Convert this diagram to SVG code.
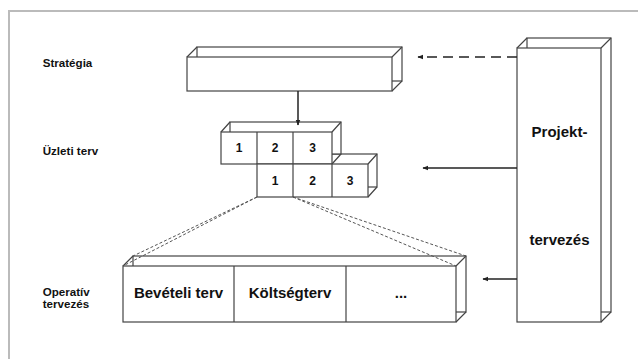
<svg xmlns="http://www.w3.org/2000/svg" width="638" height="359" viewBox="0 0 638 359">
<defs>
<style>
.bx{fill:#fff;stroke:#444;stroke-width:1.2}
.ln{fill:none;stroke:#444;stroke-width:1.2}
.dl{fill:none;stroke:#555;stroke-width:1;stroke-dasharray:3 2}
.ar{fill:none;stroke:#222;stroke-width:1.5}
.t{font-family:"Liberation Sans",Arial,sans-serif;font-weight:bold;fill:#111}
.s{font-size:11.6px}
.n{font-size:12px;text-anchor:middle}
.b{font-size:15px;text-anchor:middle}
</style>
<marker id="ah" viewBox="0 0 10 10" refX="9" refY="5" markerWidth="4" markerHeight="4" orient="auto">
<path d="M0,1 L10,5 L0,9 z" fill="#222"/>
</marker>
</defs>
<rect width="638" height="359" fill="#fff"/>
<path d="M9,359 V11 H638" fill="none" stroke="#bbb" stroke-width="2"/>

<g id="labels">
<text class="t s" x="42.7" y="66.5">Stratégia</text>
<text class="t s" x="42.7" y="155">Üzleti terv</text>
<text class="t s" x="42.7" y="295.5">Operatív</text>
<text class="t s" x="42.7" y="308">tervezés</text>
</g>

<g id="strategia">
<rect class="bx" x="197" y="47" width="205" height="34"/>
<path class="ln" d="M187,57 L197,47 M392,57 L402,47 M392,91 L402,81"/>
<rect class="bx" x="187" y="57" width="205" height="34"/>
</g>

<g id="uzleti-terv">
<rect class="bx" x="266" y="154" width="111" height="33"/>
<path class="ln" d="M368,164 L377,154 M368,197 L377,187"/>
<rect class="bx" x="230" y="122" width="111" height="32"/>
<path class="ln" d="M221,132 L230,122 M332,132 L341,122 M332,164 L341,154"/>
<rect class="bx" x="221" y="132" width="111" height="32"/>
<path class="ln" d="M257,132 V164 M293,132 V164"/>
<rect class="bx" x="257" y="164" width="111" height="33"/>
<path class="ln" d="M293,164 V197 M332,164 V197"/>
<text class="t n" x="239" y="152">1</text>
<text class="t n" x="275" y="152">2</text>
<text class="t n" x="312.5" y="152">3</text>
<text class="t n" x="275" y="185">1</text>
<text class="t n" x="312.5" y="185">2</text>
<text class="t n" x="350" y="185">3</text>
</g>

<g id="operativ">
<rect class="bx" x="133" y="256" width="333" height="56"/>
<path class="ln" d="M123,266 L133,256 M456,266 L466,256 M456,322 L466,312"/>
<rect class="bx" x="123" y="266" width="333" height="56"/>
<path class="ln" d="M234,266 V322 M346,266 V322"/>
<text class="t b" x="178.5" y="298">Bevételi terv</text>
<text class="t b" x="290" y="298">Költségterv</text>
<text class="t b" x="401" y="298">...</text>
</g>

<g id="projekt">
<rect class="bx" x="527" y="38" width="84" height="274"/>
<path class="ln" d="M517,48 L527,38 M601,48 L611,38 M601,322 L611,312"/>
<rect class="bx" x="517" y="48" width="84" height="274"/>
<text class="t b" x="559.5" y="137">Projekt-</text>
<text class="t b" x="559.5" y="245">tervezés</text>
</g>

<g id="connectors">
<line class="ar" x1="298" y1="91" x2="298" y2="125" stroke-width="1.2" marker-end="url(#ah)"/>
<line class="ar" x1="517" y1="57" x2="418" y2="57" stroke-dasharray="10 6" marker-end="url(#ah)"/>
<line class="ar" x1="517" y1="168" x2="423" y2="168" marker-end="url(#ah)"/>
<line class="ar" x1="517" y1="279" x2="483" y2="279" marker-end="url(#ah)"/>
<path class="dl" d="M257,197 L123,266 M257,197 L133,256 M293,197 L456,266 M293,197 L466,256"/>
</g>
</svg>
